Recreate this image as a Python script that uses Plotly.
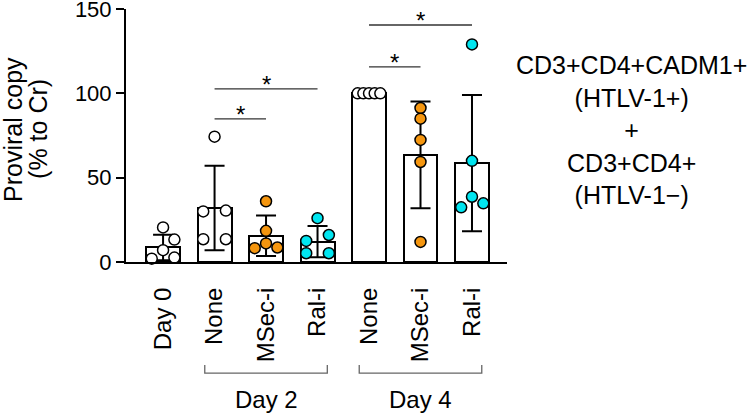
import plotly.graph_objects as go

categories = ["Day 0", "None", "MSec-i", "Ral-i", "None ", "MSec-i ", "Ral-i "]
tick_labels = ["Day 0", "None", "MSec-i", "Ral-i", "None", "MSec-i", "Ral-i"]
means = [8.6, 32, 15.5, 12.1, 100, 63.5, 58.6]
sds = [7.5, 25, 12.0, 9.3, 0, 31.6, 40.4]

pts_day0 = [20.5, 13.3, 7.0, 2.0, 2.6]
pts_d2_none = [74.3, 30.0, 30.5, 13.5, 13.5]
pts_d2_msec = [36.0, 18.5, 11.0, 8.2, 8.6]
pts_d2_ral = [26.0, 16.0, 12.5, 5.2, 5.2]
pts_d4_none = [100, 100, 100, 100, 100]
pts_d4_msec = [91.3, 85.0, 72.4, 59.3, 11.9]
pts_d4_ral = [129.0, 60.0, 38.7, 32.4, 34.8]

jit_day0 = [0, 0.22, 0, -0.22, 0.22]
jit_d2_none = [0, -0.22, 0.22, -0.22, 0.22]
jit_d2_msec = [0, 0, 0, -0.22, 0.22]
jit_d2_ral = [0, 0.22, -0.22, -0.22, 0.22]
jit_d4_none = [-0.22, -0.11, 0, 0.11, 0.22]
jit_d4_msec = [0, 0, 0, 0, 0]
jit_d4_ral = [0, 0, 0, -0.21, 0.22]

point_sets = [pts_day0, pts_d2_none, pts_d2_msec, pts_d2_ral, pts_d4_none, pts_d4_msec, pts_d4_ral]
jitters = [jit_day0, jit_d2_none, jit_d2_msec, jit_d2_ral, jit_d4_none, jit_d4_msec, jit_d4_ral]
point_colors = ["white", "white", "#F5960F", "#00E5F0", "white", "#F5960F", "#00E5F0"]

# significance comparisons: (from index, to index, height)
sig_from = [1, 1, 4, 4]
sig_to = [2, 3, 5, 6]
sig_y = [84.8, 102.6, 115.7, 140.5]

groups = ["Day 2", "Day 4"]
group_start = [1, 4]
group_end = [3, 6]

y_title_lines = ["Proviral copy", "(% to Cr)"]
side_text = ["CD3+CD4+CADM1+", "(HTLV-1+)", "+", "CD3+CD4+", "(HTLV-1−)"]

FONT = "Liberation Sans, Arial, sans-serif"
fig = go.Figure()
xs = list(range(len(categories)))

fig.add_trace(go.Bar(
    x=xs, y=means, width=0.66,
    marker=dict(color="white", line=dict(color="black", width=2)),
    error_y=dict(type="data", array=sds, visible=True, color="black", thickness=2, width=10),
    showlegend=False,
))

for i, (pts, jit, col) in enumerate(zip(point_sets, jitters, point_colors)):
    fig.add_trace(go.Scatter(
        x=[i + j for j in jit], y=pts, mode="markers",
        marker=dict(size=11, color=col, line=dict(color="black", width=1.5)),
        showlegend=False, cliponaxis=False,
    ))

for a, b, h in zip(sig_from, sig_to, sig_y):
    fig.add_shape(type="line", x0=a, x1=b, y0=h, y1=h, xref="x", yref="y",
                  line=dict(color="#333333", width=1.3))
    fig.add_annotation(x=(a + b) / 2, y=h, xref="x", yref="y", text="*",
                       showarrow=False, yanchor="bottom", yshift=-11,
                       font=dict(family=FONT, size=24, color="black"))

for g, s, e in zip(groups, group_start, group_end):
    x0 = s - 0.19
    x1 = e + 0.19
    fig.add_shape(type="path", xref="x", yref="paper",
                  path=f"M {x0},-0.407 L {x0},-0.439 L {x1},-0.439 L {x1},-0.407",
                  line=dict(color="#666666", width=1.3))
    fig.add_annotation(x=(s + e) / 2, y=-0.545, xref="x", yref="paper", text=g,
                       showarrow=False, yanchor="middle", xanchor="center",
                       font=dict(family=FONT, size=24, color="black"))

for k, line in enumerate(y_title_lines):
    fig.add_annotation(x=-0.2966 + 0.0656 * k, y=0.526, xref="paper", yref="paper",
                       text=line, textangle=-90,
                       showarrow=False, xanchor="center", yanchor="middle",
                       font=dict(family=FONT, size=25, color="black"))

fig.add_annotation(x=1.328, y=0.522, xref="paper", yref="paper",
                   text="<br>".join(side_text),
                   showarrow=False, xanchor="center", yanchor="middle", align="center",
                   font=dict(family=FONT, size=25, color="black"))

fig.update_layout(
    width=750, height=414,
    margin=dict(l=126, r=243, t=9, b=152),
    plot_bgcolor="white", paper_bgcolor="white",
    font=dict(family=FONT, size=24, color="black"),
    bargap=0,
    xaxis=dict(range=[-0.72, 6.68], tickmode="array", tickvals=xs, ticktext=tick_labels,
               tickangle=-90, showline=True, linecolor="black", linewidth=2,
               ticks="", showgrid=False, zeroline=False, ticklabelstandoff=14,
               automargin=False,
               tickfont=dict(family=FONT, size=24, color="black")),
    yaxis=dict(range=[0, 150], tickvals=[0, 50, 100, 150], showline=True,
               linecolor="black", linewidth=2, ticks="outside", ticklen=8,
               tickwidth=2, tickcolor="black", showgrid=False, zeroline=False,
               ticklabeloverflow="allow", automargin=False,
               tickfont=dict(family=FONT, size=22, color="black")),
)

fig.write_html("out.html", config={"displayModeBar": False},
               post_script="document.body.style.margin='0';")
